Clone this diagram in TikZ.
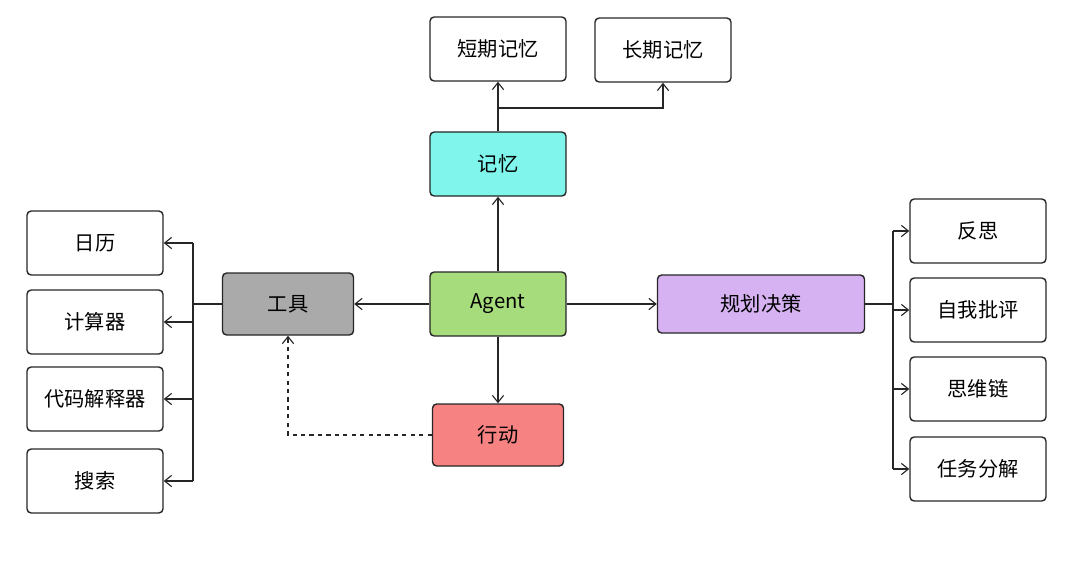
\documentclass[tikz,border=0pt]{standalone}
\usepackage{fontspec}
\newfontfamily\cjk{Noto Sans CJK SC}
\usetikzlibrary{arrows.meta}
\definecolor{cmem}{HTML}{7FF5EC}
\definecolor{cag}{HTML}{A6DC7C}
\definecolor{ctool}{HTML}{AAAAAA}
\definecolor{cplan}{HTML}{D6B2F2}
\definecolor{cact}{HTML}{F78282}
\begin{document}
\begin{tikzpicture}[x=0.025cm,y=-0.025cm,
  box/.style={draw=black!85,line width=1pt,rounded corners=3pt,minimum width=3.4cm,minimum height=1.6cm,inner sep=0pt,font=\cjk\Large},
  ar/.style={draw=black!85,line width=0.8pt,-{Straight Barb[length=5pt,width=8pt]}},
  ln/.style={draw=black!85,line width=0.8pt}]
\useasboundingbox (0,0) rectangle (1080,575);
\node[box] (st) at (498,49) {短期记忆};
\node[box] (lt) at (663,50) {长期记忆};
\node[box,fill=cmem] (mem) at (498,164) {记忆};
\node[box,fill=cag] (ag) at (498,304) {Agent};
\node[box,fill=ctool,minimum width=3.275cm,minimum height=1.55cm] (tool) at (288,304) {工具};
\node[box,fill=cplan,minimum width=5.175cm,minimum height=1.45cm] (plan) at (761,304) {规划决策};
\node[box,fill=cact,minimum width=3.275cm,minimum height=1.55cm] (act) at (498,435) {行动};
\node[box] (l1) at (95,243) {日历};
\node[box] (l2) at (95,322) {计算器};
\node[box] (l3) at (95,399) {代码解释器};
\node[box] (l4) at (95,481) {搜索};
\node[box] (r1) at (978,231) {反思};
\node[box] (r2) at (978,310) {自我批评};
\node[box] (r3) at (978,389) {思维链};
\node[box] (r4) at (978,469) {任务分解};
\coordinate (mj) at (498,108);
\coordinate (tj) at (193,304);
\coordinate (pj) at (893,304);
\draw[ar] (ag) -- (mem);
\draw[ln] (mem) -- (mj);
\draw[ar] (mj) -- (st);
\draw[ar] (mj) -| (lt);
\draw[ar] (ag) -- (tool);
\draw[ar] (ag) -- (plan);
\draw[ar] (ag) -- (act);
\draw[ar,dashed] (act.west) -| (tool.south);
\draw[ln,line width=1.4pt] (tool) -- (tj);
\draw[ln] (193,243) -- (193,481);
\foreach \n in {l1,l2,l3,l4} \draw[ar] (tj |- \n) -- (\n.east);
\draw[ln,line width=1.4pt] (plan) -- (pj);
\draw[ln] (893,231) -- (893,469);
\foreach \n in {r1,r2,r3,r4} \draw[ar] (pj |- \n) -- (\n.west);
\end{tikzpicture}
\end{document}
